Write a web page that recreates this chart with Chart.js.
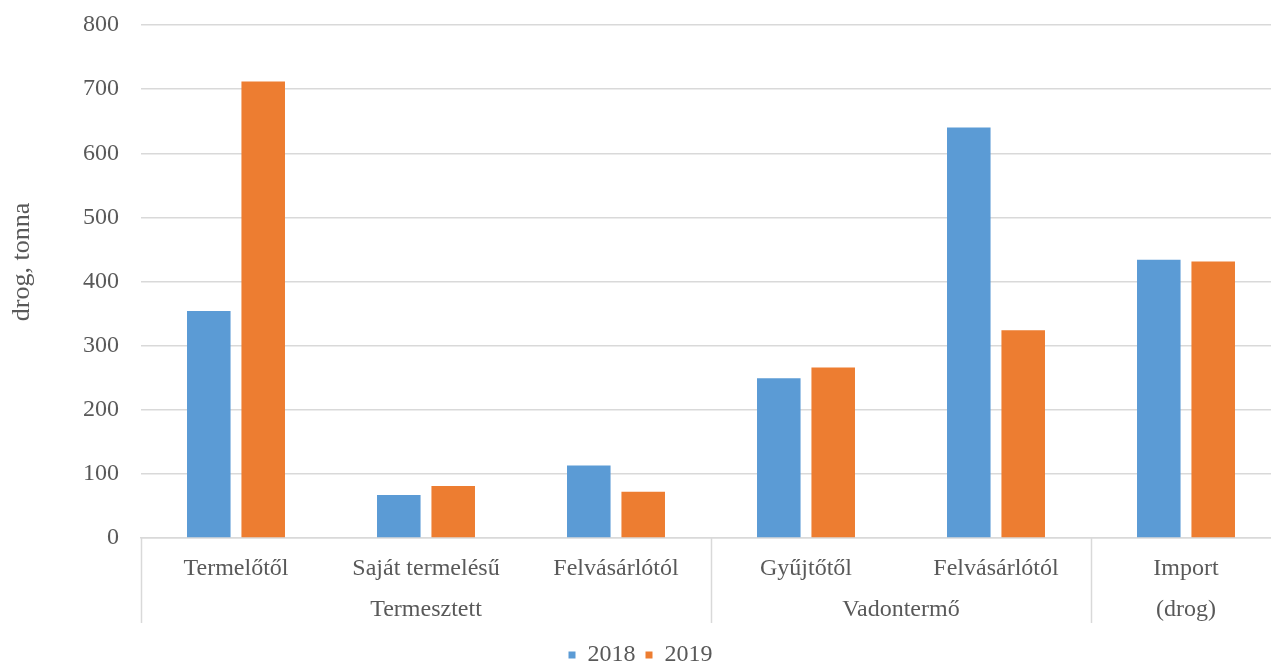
<!DOCTYPE html>
<html>
<head>
<meta charset="utf-8">
<script src="https://cdn.jsdelivr.net/npm/chart.js@4"></script>
<style>
html, body { margin: 0; padding: 0; overflow: hidden; background: #ffffff; }
#wrap { width: 1281px; height: 677px; }
</style>
</head>
<body>
<div id="wrap"><canvas id="c" width="1281" height="677"></canvas></div>
<script>
const categories = ["Termelőtől", "Saját termelésű", "Felvásárlótól", "Gyűjtőtől", "Felvásárlótól", ["Import", "(drog)"]];
const groupLabels = ["Termesztett", "Vadontermő", null];
const groupStarts = [0, 3, 5];
const groupEnds = [2, 4, 5];
const seriesNames = ["2018", "2019"];
const values2018 = [354, 67, 113, 249, 640, 434];
const values2019 = [712, 81, 72, 266, 324, 431];
const yTicks = [0, 100, 200, 300, 400, 500, 600, 700, 800];

const FONT = "'Liberation Serif', 'Times New Roman', serif";
const TEXT = '#595959';
const GRID = '#d9d9d9';

const groupPlugin = {
  id: 'groupAxis',
  afterDraw(chart) {
    const xs = chart.scales.x;
    const ctx = chart.ctx;
    const top = chart.chartArea.bottom;
    const half = (xs.getPixelForValue(1) - xs.getPixelForValue(0)) / 2;
    ctx.save();
    ctx.strokeStyle = GRID;
    ctx.lineWidth = 1.5;
    groupStarts.forEach(s => {
      const x = Math.round(xs.getPixelForValue(s) - half) + 0.5;
      ctx.beginPath();
      ctx.moveTo(x, top);
      ctx.lineTo(x, top + 85);
      ctx.stroke();
    });
    ctx.fillStyle = TEXT;
    ctx.font = '24px ' + FONT;
    ctx.textAlign = 'center';
    ctx.textBaseline = 'middle';
    groupLabels.forEach((g, i) => {
      if (!g) return;
      const x = (xs.getPixelForValue(groupStarts[i]) + xs.getPixelForValue(groupEnds[i])) / 2;
      ctx.fillText(g, x, top + 31 + 41);
    });
    ctx.restore();
  }
};

new Chart(document.getElementById('c'), {
  type: 'bar',
  data: {
    labels: categories,
    datasets: [
      { label: seriesNames[0], data: values2018, backgroundColor: '#5b9bd5', categoryPercentage: 0.573, barPercentage: 0.8 },
      { label: seriesNames[1], data: values2019, backgroundColor: '#ed7d31', categoryPercentage: 0.573, barPercentage: 0.8 }
    ]
  },
  options: {
    responsive: false,
    animation: false,
    devicePixelRatio: 1,
    layout: { padding: { top: 25, left: 0, right: 0, bottom: 0 } },
    plugins: {
      legend: {
        position: 'bottom',
        labels: {
          boxWidth: 7, boxHeight: 7, padding: 10,
          color: TEXT,
          font: { family: FONT, size: 24 }
        }
      },
      tooltip: { enabled: false }
    },
    scales: {
      x: {
        grid: { display: false, drawTicks: false },
        border: { display: true, color: GRID, width: 1.5 },
        ticks: {
          color: TEXT,
          padding: 10,
          maxRotation: 0,
          autoSkip: false,
          font: { family: FONT, size: 24, lineHeight: 41 / 24 }
        },
        afterFit(scale) { scale.height = 95; }
      },
      y: {
        min: 0, max: 800,
        afterBuildTicks(scale) { scale.ticks = yTicks.map(v => ({ value: v })); },
        grid: { color: GRID, lineWidth: 1.5, drawTicks: false },
        border: { display: false },
        ticks: {
          color: TEXT,
          padding: 22,
          font: { family: FONT, size: 24 }
        },
        title: {
          display: true,
          text: '\u00a0\u00a0\u00a0\u00a0\u00a0\u00a0drog, tonna',
          color: TEXT,
          padding: { top: 7, bottom: 0 },
          font: { family: FONT, size: 26 }
        },
        afterFit(scale) {
          scale.width = 141;
          scale.paddingTop = 14;
          scale.paddingBottom = 14;
        }
      }
    }
  },
  plugins: [groupPlugin]
});
</script>
</body>
</html>
